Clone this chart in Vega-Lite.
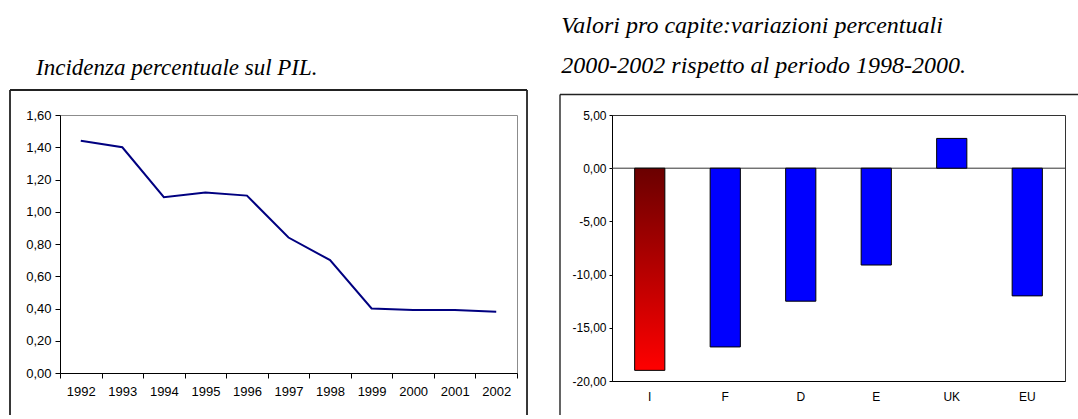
{
  "$schema": "https://vega.github.io/schema/vega-lite/v6.json",
  "background": "white",
  "padding": {"left": 8, "top": 13, "right": 0, "bottom": 0},
  "spacing": 29,
  "align": "none",
  "bounds": "full",
  "config": {
    "axis": {"grid": false, "domainColor": "black", "tickColor": "black", "labelColor": "black", "labelFont": "Liberation Sans", "domainWidth": 1, "tickWidth": 1, "labelOverlap": false},
    "title": {"font": "Liberation Serif", "fontStyle": "italic", "fontWeight": "normal", "color": "black", "anchor": "start", "frame": "bounds"}
  },
  "hconcat": [
    {
      "width": 457,
      "height": 258,
      "view": {"stroke": "#8c8c8c", "strokeWidth": 1},
      "title": {"text": [" ", "Incidenza percentuale sul PIL."], "font": "Liberation Serif", "fontStyle": "italic", "fontSize": 23, "lineHeight": 43, "dx": 27, "offset": 9},
      "data": {"values": [
        {"year": "1992", "v": 1.44},
        {"year": "1993", "v": 1.40},
        {"year": "1994", "v": 1.09},
        {"year": "1995", "v": 1.12},
        {"year": "1996", "v": 1.10},
        {"year": "1997", "v": 0.84},
        {"year": "1998", "v": 0.70},
        {"year": "1999", "v": 0.40},
        {"year": "2000", "v": 0.39},
        {"year": "2001", "v": 0.39},
        {"year": "2002", "v": 0.38}
      ]},
      "resolve": {"scale": {"x": "independent", "y": "independent"}},
      "layer": [
        {
          "mark": {"type": "line", "color": "#000080", "strokeWidth": 2},
          "encoding": {
            "x": {"field": "year", "type": "ordinal", "bandPosition": 0.5,
              "scale": {"type": "band", "paddingInner": 0, "paddingOuter": 0},
              "axis": {"title": null, "tickBand": "extent", "tickSize": 5, "labelPadding": 7, "labelFontSize": 13, "labelAngle": 0}},
            "y": {"field": "v", "type": "quantitative", "scale": {"domain": [0, 1.6], "nice": false},
              "axis": {"title": null, "values": [0, 0.2, 0.4, 0.6, 0.8, 1.0, 1.2, 1.4, 1.6], "labelOverlap": false, "labelExpr": "replace(format(datum.value, '.2f'), '.', ',')", "tickSize": 5, "labelPadding": 4, "labelFontSize": 13}}
          }
        },
        {
          "data": {"values": [{}]},
          "layer": [
            {"mark": {"type": "rule", "color": "#222222", "strokeWidth": 1.8},
             "encoding": {"x": {"datum": -0.1094, "type": "quantitative", "scale": {"domain": [0, 1]}, "axis": null},
                          "y": {"datum": 1.755, "type": "quantitative", "scale": {"domain": [0, 1.6], "nice": false}, "axis": null},
                          "y2": {"datum": -0.2605}}},
            {"mark": {"type": "rule", "color": "#222222", "strokeWidth": 1.8},
             "encoding": {"x": {"datum": 1.0219, "type": "quantitative", "scale": {"domain": [0, 1]}, "axis": null},
                          "y": {"datum": 1.755, "type": "quantitative", "scale": {"domain": [0, 1.6], "nice": false}, "axis": null},
                          "y2": {"datum": -0.2605}}},
            {"mark": {"type": "rule", "color": "#222222", "strokeWidth": 1.8},
             "encoding": {"x": {"datum": -0.1094, "type": "quantitative", "scale": {"domain": [0, 1]}, "axis": null},
                          "x2": {"datum": 1.0219},
                          "y": {"datum": 1.755, "type": "quantitative", "scale": {"domain": [0, 1.6], "nice": false}, "axis": null}}}
          ]
        }
      ]
    },
    {
      "width": 453,
      "height": 266,
      "view": {"stroke": "#333333", "strokeWidth": 1},
      "title": {"text": ["Valori pro capite:variazioni percentuali", "2000-2002 rispetto al periodo 1998-2000."], "font": "Liberation Serif", "fontStyle": "italic", "fontSize": 24, "lineHeight": 40, "dx": 2, "offset": 16},
      "data": {"values": [
        {"c": "I", "v": -19.0},
        {"c": "F", "v": -16.8},
        {"c": "D", "v": -12.5},
        {"c": "E", "v": -9.1},
        {"c": "UK", "v": 2.8},
        {"c": "EU", "v": -12.0}
      ]},
      "resolve": {"scale": {"x": "independent", "y": "independent"}},
      "layer": [
        {
          "layer": [
            {
              "data": {"values": [{}]},
              "mark": {"type": "rule", "color": "#333333", "strokeWidth": 1},
              "encoding": {"y": {"datum": 0, "type": "quantitative", "scale": {"domain": [-20, 5], "nice": false}}}
            },
            {
              "transform": [{"filter": "datum.c !== 'I'"}],
              "mark": {"type": "bar", "color": "#0000ff", "stroke": "black", "strokeWidth": 1},
              "encoding": {
                "x": {"field": "c", "type": "nominal", "sort": ["I", "F", "D", "E", "UK", "EU"],
                  "scale": {"domain": ["I", "F", "D", "E", "UK", "EU"], "paddingInner": 0.6, "paddingOuter": 0.3},
                  "axis": {"title": null, "ticks": false, "tickSize": 0, "labelPadding": 10, "labelFontSize": 12, "labelAngle": 0}},
                "y": {"field": "v", "type": "quantitative", "scale": {"domain": [-20, 5], "nice": false},
                  "axis": {"title": null, "values": [-20, -15, -10, -5, 0, 5], "labelOverlap": false, "labelExpr": "replace(replace(format(datum.value, '.2f'), '.', ','), '\u2212', '-')", "tickSize": 3, "labelPadding": 3, "labelFontSize": 12}}
              }
            },
            {
              "transform": [{"filter": "datum.c === 'I'"}],
              "mark": {"type": "bar", "stroke": "black", "strokeWidth": 1,
                "color": {"gradient": "linear", "x1": 0, "y1": 0, "x2": 0, "y2": 1,
                  "stops": [{"offset": 0, "color": "#6a0000"}, {"offset": 1, "color": "#ff0000"}]}},
              "encoding": {
                "x": {"field": "c", "type": "nominal", "sort": ["I", "F", "D", "E", "UK", "EU"],
                  "scale": {"domain": ["I", "F", "D", "E", "UK", "EU"], "paddingInner": 0.6, "paddingOuter": 0.3}},
                "y": {"field": "v", "type": "quantitative", "scale": {"domain": [-20, 5], "nice": false}}
              }
            }
          ]
        },
        {
          "data": {"values": [{}]},
          "layer": [
            {"mark": {"type": "rule", "color": "#222222", "strokeWidth": 1.4},
             "encoding": {"x": {"datum": -0.1148, "type": "quantitative", "scale": {"domain": [0, 1]}, "axis": null},
                          "y": {"datum": 6.927, "type": "quantitative", "scale": {"domain": [-20, 5], "nice": false}, "axis": null},
                          "y2": {"datum": -23.195}}},
            {"mark": {"type": "rule", "color": "#222222", "strokeWidth": 1.4},
             "encoding": {"x": {"datum": -0.1148, "type": "quantitative", "scale": {"domain": [0, 1]}, "axis": null},
                          "x2": {"datum": 1.0331},
                          "y": {"datum": 6.927, "type": "quantitative", "scale": {"domain": [-20, 5], "nice": false}, "axis": null}}}
          ]
        }
      ]
    }
  ]
}
